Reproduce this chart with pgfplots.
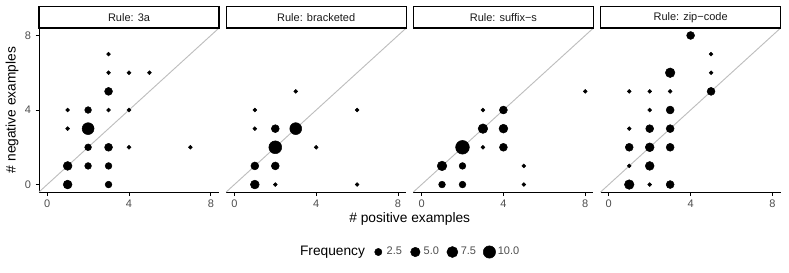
\documentclass[border=0pt]{standalone}
\usepackage{fontspec}
\setmainfont{Liberation Sans}
\usepackage{pgfplots}
\pgfplotsset{compat=1.18}
\usepackage{pgfplotstable}
\definecolor{gthirty}{RGB}{77,77,77}
\definecolor{gten}{RGB}{26,26,26}
\definecolor{diag}{RGB}{190,190,190}

\pgfplotstableread{
x y f
1 0 4
3 0 2
1 1 4
2 1 2
3 1 2
2 2 2
3 2 3
4 2 1
7 2 1
1 3 1
2 3 9
1 4 1
2 4 2
3 4 1
4 4 1
3 5 3
3 6 1
4 6 1
5 6 1
3 7 1
}\dataA
\pgfplotstableread{
x y f
1 0 4
2 0 1
6 0 1
1 1 3
2 1 3
2 2 11
4 2 1
1 3 1
2 3 3
3 3 9
1 4 1
6 4 1
3 5 1
}\dataB
\pgfplotstableread{
x y f
1 0 2
2 0 2
5 0 1
1 1 5
2 1 2
5 1 1
2 2 13
3 2 1
4 2 3
3 3 5
4 3 4
3 4 1
4 4 3
8 5 1
}\dataC
\pgfplotstableread{
x y f
1 0 5
2 0 1
3 0 3
1 1 1
2 1 4
1 2 3
2 2 4
3 2 3
1 3 1
2 3 3
3 3 3
2 4 1
3 4 3
1 5 1
2 5 1
3 5 1
5 5 3
3 6 5
5 6 1
5 7 1
4 8 3
}\dataD

\pgfplotsset{
  panel/.style={
    scale only axis, width=144pt, height=131.2pt, anchor=south west,
    xmin=-0.4, xmax=8.4, ymin=-0.4, ymax=8.4,
    axis x line=bottom, axis y line=left,
    axis line style={-, line width=0.8pt, black},
    xtick={0,4,8}, ytick={0,4,8},
    tick align=outside, major tick length=2.8pt,
    tick style={black, line width=0.8pt},
    ticklabel style={font=\fontsize{8.8}{10}\selectfont, text=gthirty},
    /pgf/number format/assume math mode=true,
    clip=false,
  },
  freqpts/.style={
    scatter, only marks, mark=*, forget plot,
    scatter/use mapped color={draw=black, fill=black},
    visualization depends on={1.55+3.6*sqrt((\thisrow{f}-1)/10) \as \msize},
    scatter/@pre marker code/.append style={/tikz/mark size=\msize pt},
  },
  diagline/.style={diag, line width=0.75pt, forget plot},
  dotlegend/.style={black, mark=*, mark size=#1,
    legend image code/.code={\draw[black, fill=black] plot[mark=*, mark size=#1, only marks] coordinates {(0pt,0pt)}; \path[draw=none, fill=none] (-5pt,-5pt) rectangle (6.7pt,5pt);}},
}

\newcommand{\strip}[1]{%
  \draw[line width=1.1pt, black, fill=white] (rel axis cs:0,1) rectangle ([yshift=17.28pt]rel axis cs:1,1);
  \node[font=\fontsize{8.8}{10}\selectfont, text=gten] at ([yshift=8.64pt]rel axis cs:0.5,1) {#1};
}

\begin{document}
\begin{tikzpicture}
\path[use as bounding box] (0,0) rectangle (631.2pt,-217.6pt);

\begin{axis}[panel, at={(31.2pt,-153.6pt)}]
\addplot[diagline] coordinates {(-0.4,-0.4) (8.4,8.4)};
\addplot[freqpts] table[x=x, y=y] {\dataA};
\strip{Rule: 3a}
\end{axis}

\begin{axis}[panel, at={(180.96pt,-153.6pt)}, hide y axis,
  legend columns=4,
  legend style={draw=none, fill=none, inner sep=0pt, outer sep=0pt,
    at={(axis description cs:0.8103,-0.3659)}, anchor=west,
    font=\fontsize{8.8}{10}\selectfont, text=gthirty,
    nodes={inner sep=0pt},
    /tikz/every even column/.append style={column sep=5.7pt}},
]
\addplot[diagline] coordinates {(-0.4,-0.4) (8.4,8.4)};
\addplot[freqpts] table[x=x, y=y] {\dataB};
\strip{Rule: bracketed}
\addlegendimage{dotlegend=2.89pt}\addlegendentry{2.5}
\addlegendimage{dotlegend=3.78pt}\addlegendentry{5.0}
\addlegendimage{dotlegend=4.40pt}\addlegendentry{7.5}
\addlegendimage{dotlegend=4.92pt}\addlegendentry{10.0}
\end{axis}

\begin{axis}[panel, at={(330.72pt,-153.6pt)}, hide y axis]
\addplot[diagline] coordinates {(-0.4,-0.4) (8.4,8.4)};
\addplot[freqpts] table[x=x, y=y] {\dataC};
\strip{Rule: suffix−s}
\end{axis}

\begin{axis}[panel, at={(480.48pt,-153.6pt)}, hide y axis]
\addplot[diagline] coordinates {(-0.4,-0.4) (8.4,8.4)};
\addplot[freqpts] table[x=x, y=y] {\dataD};
\strip{Rule: zip−code}
\end{axis}

\node[font=\fontsize{11}{13}\selectfont, rotate=90] at (9.6pt,-88pt) {\# negative examples};
\node[font=\fontsize{11}{13}\selectfont] at (327.8pt,-175.2pt) {\# positive examples};
\node[font=\fontsize{11}{13}\selectfont] at (266pt,-201.6pt) {Frequency};
\end{tikzpicture}
\end{document}
